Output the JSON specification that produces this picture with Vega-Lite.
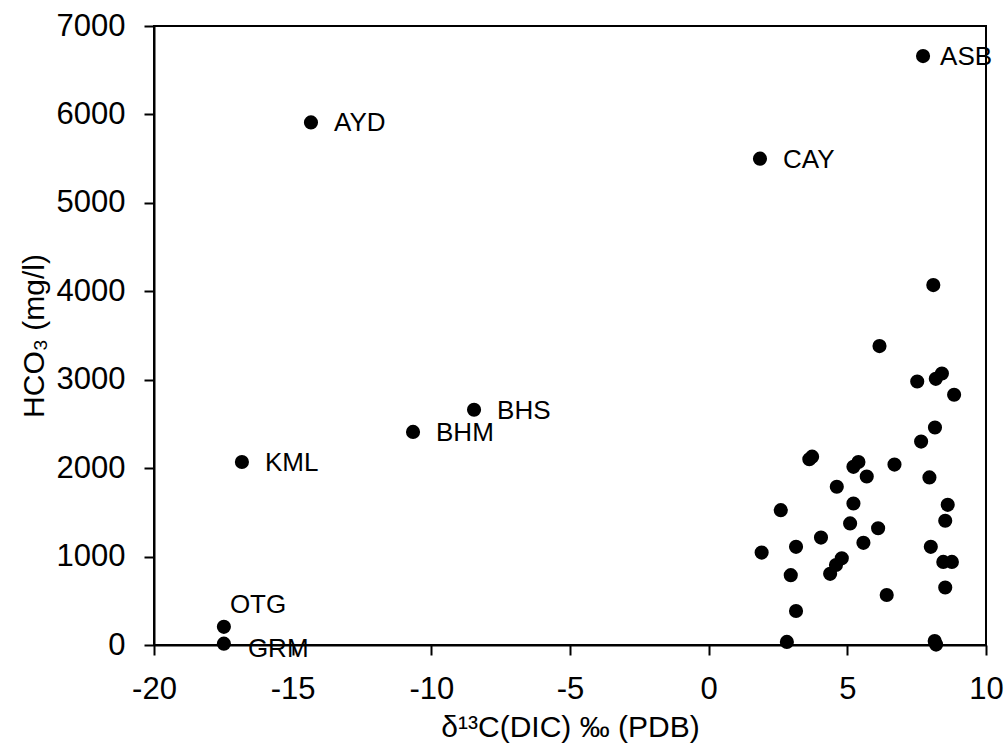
{
  "$schema": "https://vega.github.io/schema/vega-lite/v6.json",
  "width": 832,
  "height": 619,
  "autosize": "none",
  "padding": {"left": 154, "top": 26, "right": 22, "bottom": 106},
  "background": "white",
  "config": {
    "view": {"stroke": "black", "strokeWidth": 2},
    "font": "Liberation Sans",
    "axis": {
      "grid": false,
      "domainColor": "black",
      "domainWidth": 2,
      "tickColor": "black",
      "tickWidth": 2,
      "tickSize": 10,
      "labelFont": "Liberation Sans",
      "labelFontSize": 31,
      "labelColor": "black",
      "labelPadding": 19,
      "labelFlush": false,
      "labelOverlap": false,
      "labelExpr": "'' + datum.value",
      "titleFont": "Liberation Sans",
      "titleFontSize": 30,
      "titleFontWeight": "normal",
      "titleColor": "black"
    }
  },
  "data": {
    "values": [
      {"x": 7.73, "y": 6660, "label": "ASB"},
      {"x": -14.34, "y": 5910, "label": "AYD"},
      {"x": 1.85, "y": 5500, "label": "CAY"},
      {"x": -16.83, "y": 2070, "label": "KML"},
      {"x": -10.66, "y": 2410, "label": "BHM"},
      {"x": -8.46, "y": 2660, "label": "BHS"},
      {"x": -17.48, "y": 205, "label": "OTG"},
      {"x": -17.48, "y": 15, "label": "GRM"},
      {"x": 8.10, "y": 4070},
      {"x": 6.16, "y": 3380},
      {"x": 8.41, "y": 3070},
      {"x": 8.19, "y": 3010},
      {"x": 7.52, "y": 2980},
      {"x": 8.85, "y": 2830},
      {"x": 8.16, "y": 2460},
      {"x": 7.66, "y": 2300},
      {"x": 3.63, "y": 2100},
      {"x": 3.73, "y": 2130},
      {"x": 5.40, "y": 2070},
      {"x": 5.22, "y": 2015},
      {"x": 6.70, "y": 2040},
      {"x": 5.70, "y": 1905},
      {"x": 7.96, "y": 1895},
      {"x": 4.62, "y": 1790},
      {"x": 5.22, "y": 1600},
      {"x": 8.62, "y": 1585},
      {"x": 2.60, "y": 1525},
      {"x": 8.53, "y": 1405},
      {"x": 5.10, "y": 1375},
      {"x": 6.11, "y": 1320},
      {"x": 4.05, "y": 1215},
      {"x": 5.58, "y": 1155},
      {"x": 3.15, "y": 1110},
      {"x": 8.01, "y": 1110},
      {"x": 1.91, "y": 1045},
      {"x": 4.80, "y": 980},
      {"x": 4.59, "y": 905},
      {"x": 4.38, "y": 805},
      {"x": 8.46, "y": 940},
      {"x": 8.77, "y": 940},
      {"x": 2.96, "y": 790},
      {"x": 6.42, "y": 565},
      {"x": 8.53, "y": 650},
      {"x": 3.15, "y": 385},
      {"x": 2.82, "y": 35},
      {"x": 8.15, "y": 45},
      {"x": 8.20, "y": 5}
    ]
  },
  "encoding": {
    "x": {
      "field": "x",
      "type": "quantitative",
      "scale": {"domain": [-20, 10], "nice": false, "zero": false},
      "axis": {
        "values": [-20, -15, -10, -5, 0, 5, 10],
        "title": "δ¹³C(DIC) ‰ (PDB)",
        "titleY": 91,
        "titleBaseline": "alphabetic"
      }
    },
    "y": {
      "field": "y",
      "type": "quantitative",
      "scale": {"domain": [0, 7000], "nice": false},
      "axis": {
        "values": [0, 1000, 2000, 3000, 4000, 5000, 6000, 7000],
        "title": "HCO₃ (mg/l)",
        "titleX": -111,
        "titleY": 309.5,
        "titleAngle": -90,
        "titleAlign": "center",
        "titleBaseline": "alphabetic"
      }
    }
  },
  "layer": [
    {
      "mark": {"type": "point", "filled": true, "shape": "circle", "size": 200, "color": "black", "opacity": 1}
    },
    {
      "transform": [{"filter": "indexof(['AYD','CAY','KML','BHM','BHS'], datum.label) >= 0"}],
      "mark": {"type": "text", "align": "left", "baseline": "middle", "dx": 23, "dy": 1, "fontSize": 26, "color": "black", "font": "Liberation Sans"},
      "encoding": {"text": {"field": "label"}}
    },
    {
      "transform": [{"filter": "datum.label === 'ASB'"}],
      "mark": {"type": "text", "align": "left", "baseline": "middle", "dx": 17, "dy": 1, "fontSize": 26, "color": "black", "font": "Liberation Sans"},
      "encoding": {"text": {"field": "label"}}
    },
    {
      "transform": [{"filter": "datum.label === 'GRM'"}],
      "mark": {"type": "text", "align": "left", "baseline": "middle", "dx": 24, "dy": 5, "fontSize": 26, "color": "black", "font": "Liberation Sans"},
      "encoding": {"text": {"field": "label"}}
    },
    {
      "transform": [{"filter": "datum.label === 'OTG'"}],
      "mark": {"type": "text", "align": "left", "baseline": "middle", "dx": 6, "dy": -22, "fontSize": 26, "color": "black", "font": "Liberation Sans"},
      "encoding": {"text": {"field": "label"}}
    }
  ]
}
